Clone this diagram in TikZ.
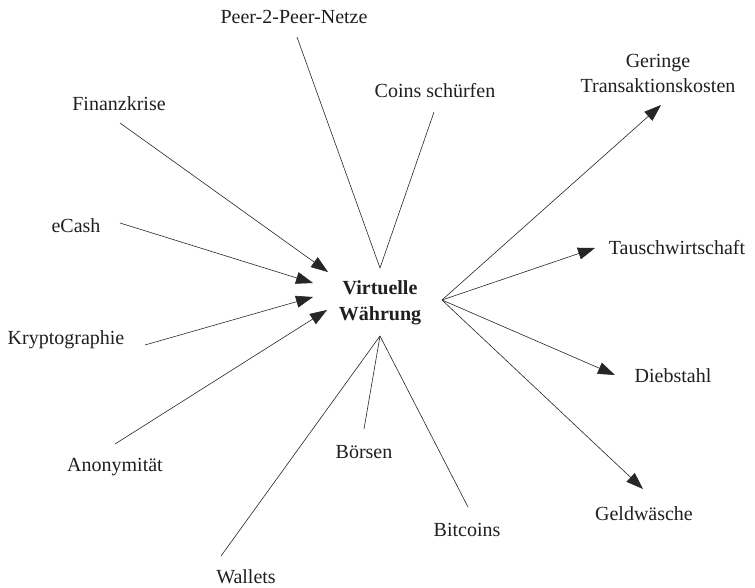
\documentclass[tikz,border=0pt]{standalone}
\usepackage{fontspec}
\setmainfont{Liberation Serif}
\usetikzlibrary{arrows.meta}
\begin{document}
\begin{tikzpicture}[x=1pt,y=-1pt,
  lbl/.style={inner sep=0pt, font=\fontsize{20}{25}\selectfont, align=center, text=black!88},
  hub/.style={inner sep=0pt, font=\fontsize{20}{26}\selectfont\bfseries, align=center, text=black!88},
  link/.style={line width=0.6pt, black!85},
  arr/.style={link, -{Triangle[length=17pt,width=12pt]}}]
\useasboundingbox (0,0) rectangle (755,587);
\fill[white] (0,0) rectangle (755,587);

% central topic
\node[hub] (vw) at (380,303) {Virtuelle\\Währung};

% meeting points around the central topic
\coordinate (top) at (380,268);
\coordinate (bot) at (380,336);
\coordinate (rgt) at (442,300);

% labels
\node[lbl] (p2p)  at (294,17)  {Peer-2-Peer-Netze};
\node[lbl] (coin) at (435,91)  {Coins schürfen};
\node[lbl] (fin)  at (119,104) {Finanzkrise};
\node[lbl] (ecash) at (76,226) {eCash};
\node[lbl] (kryp) at (66,340)  {Kryptographie};
\node[lbl] (anon) at (115,467) {Anonymität};
\node[lbl] (wal)  at (246,577) {Wallets};
\node[lbl] (bor)  at (364,452) {Börsen};
\node[lbl] (bit)  at (467,530) {Bitcoins};
\node[lbl] (ger)  at (658,73)  {Geringe\\Transaktionskosten};
\node[lbl] (tau)  at (677,248) {Tauschwirtschaft};
\node[lbl] (dieb) at (673,376) {Diebstahl};
\node[lbl] (geld) at (644,514) {Geldwäsche};

% free line ends next to the labels
\coordinate (p2p-e)  at (297,37);
\coordinate (coin-e) at (434,112);
\coordinate (fin-e)  at (120,123);
\coordinate (ecash-e) at (120,223);
\coordinate (kryp-e) at (145,345);
\coordinate (anon-e) at (115,444);
\coordinate (wal-e)  at (221,556);
\coordinate (bor-e)  at (364,429);
\coordinate (bit-e)  at (468,507);
\coordinate (ger-e)  at (661,105);
\coordinate (tau-e)  at (595,248);
\coordinate (dieb-e) at (615,375);
\coordinate (geld-e) at (643,489);

% arrow tips at the central topic
\coordinate (fin-t)  at (328,272);
\coordinate (ecash-t) at (313,283);
\coordinate (kryp-t) at (313,297);
\coordinate (anon-t) at (327,310);

% plain links
\draw[link] (p2p-e) -- (top) -- (coin-e);
\draw[link] (wal-e) -- (bot);
\draw[link] (bor-e) -- (bot);
\draw[link] (bit-e) -- (bot);

% incoming arrows
\draw[arr] (fin-e) -- (fin-t);
\draw[arr] (ecash-e) -- (ecash-t);
\draw[arr] (kryp-e) -- (kryp-t);
\draw[arr] (anon-e) -- (anon-t);

% outgoing arrows
\draw[arr] (rgt) -- (ger-e);
\draw[arr] (rgt) -- (tau-e);
\draw[arr] (rgt) -- (dieb-e);
\draw[arr] (rgt) -- (geld-e);
\end{tikzpicture}
\end{document}
